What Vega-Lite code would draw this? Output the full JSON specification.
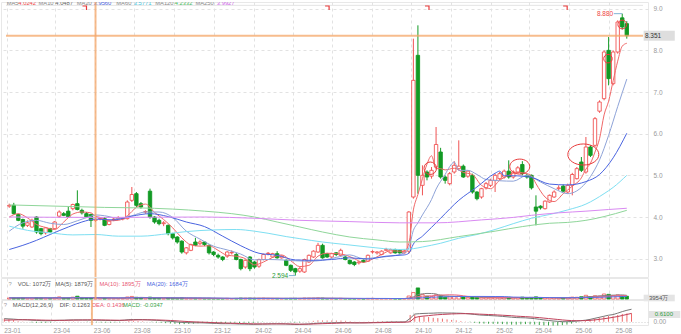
{
"$schema":"https://vega.github.io/schema/vega-lite/v6.json",
"padding":0,
"autosize":{"type":"pad"},
"background":"#ffffff",
"bounds":"flush",
"spacing":1,
"config":{
 "view":{"stroke":"#e8e8e8","strokeWidth":1},
 "font":"Liberation Sans",
 "axis":{"labelFont":"Liberation Sans","labelFontSize":6.5,"labelColor":"#9a9a9a"},
 "text":{"font":"Liberation Sans","fontSize":6}
},
"resolve":{"scale":{"x":"independent","y":"independent","fill":"independent","stroke":"independent"}},
"datasets":{
"k":[
{"d":"2023-01-20","o":4.26,"h":4.32,"l":4.22,"c":4.28,"v":1400,"dif":0.24,"dea":0.12,"m":0.24},
{"d":"2023-01-27","o":4.28,"h":4.34,"l":4.06,"c":4.08,"v":1800,"dif":0.22,"dea":0.13,"m":0.18},
{"d":"2023-02-03","o":4.06,"h":4.08,"l":3.90,"c":3.92,"v":1500,"dif":0.20,"dea":0.14,"m":0.12},
{"d":"2023-02-10","o":3.94,"h":3.96,"l":3.72,"c":3.78,"v":1700,"dif":0.17,"dea":0.145,"m":0.05},
{"d":"2023-02-17","o":3.80,"h":3.92,"l":3.76,"c":3.86,"v":1200,"dif":0.16,"dea":0.15,"m":0.02},
{"d":"2023-02-24","o":3.76,"h":3.96,"l":3.74,"c":3.92,"v":1300,"dif":0.15,"dea":0.15,"m":0.0},
{"d":"2023-03-03","o":4.00,"h":4.02,"l":3.60,"c":3.64,"v":2100,"dif":0.12,"dea":0.145,"m":-0.05},
{"d":"2023-03-10","o":3.72,"h":3.74,"l":3.56,"c":3.60,"v":1600,"dif":0.10,"dea":0.14,"m":-0.08},
{"d":"2023-03-17","o":3.62,"h":3.76,"l":3.58,"c":3.74,"v":1200,"dif":0.09,"dea":0.13,"m":-0.08},
{"d":"2023-03-24","o":3.72,"h":3.74,"l":3.62,"c":3.64,"v":900,"dif":0.08,"dea":0.12,"m":-0.08},
{"d":"2023-03-31","o":3.72,"h":3.90,"l":3.70,"c":3.88,"v":1400,"dif":0.085,"dea":0.115,"m":-0.06},
{"d":"2023-04-07","o":4.02,"h":4.16,"l":3.98,"c":4.12,"v":2900,"dif":0.10,"dea":0.11,"m":-0.02},
{"d":"2023-04-14","o":4.08,"h":4.12,"l":4.02,"c":4.04,"v":1500,"dif":0.11,"dea":0.11,"m":0.0},
{"d":"2023-04-21","o":4.14,"h":4.24,"l":3.98,"c":4.00,"v":1300,"dif":0.115,"dea":0.11,"m":0.01},
{"d":"2023-04-28","o":4.20,"h":4.32,"l":4.16,"c":4.30,"v":2500,"dif":0.13,"dea":0.12,"m":0.02},
{"d":"2023-05-05","o":4.32,"h":4.64,"l":4.16,"c":4.18,"v":3900,"dif":0.14,"dea":0.125,"m":0.03},
{"d":"2023-05-12","o":4.16,"h":4.20,"l":4.06,"c":4.10,"v":1600,"dif":0.14,"dea":0.13,"m":0.02},
{"d":"2023-05-19","o":4.08,"h":4.12,"l":3.98,"c":4.00,"v":1300,"dif":0.135,"dea":0.135,"m":0.0},
{"d":"2023-05-26","o":4.06,"h":4.08,"l":3.76,"c":3.92,"v":1500,"dif":0.13,"dea":0.14,"m":-0.02},
{"d":"2023-06-02","o":3.92,"h":3.98,"l":3.88,"c":3.94,"v":1072,"dif":0.1263,"dea":0.1436,"m":-0.0347},
{"d":"2023-06-09","o":3.96,"h":4.00,"l":3.92,"c":3.97,"v":1100,"dif":0.12,"dea":0.142,"m":-0.044},
{"d":"2023-06-16","o":3.96,"h":4.00,"l":3.78,"c":3.80,"v":1300,"dif":0.11,"dea":0.138,"m":-0.056},
{"d":"2023-06-23","o":3.82,"h":3.92,"l":3.80,"c":3.90,"v":1000,"dif":0.10,"dea":0.133,"m":-0.066},
{"d":"2023-06-30","o":3.94,"h":3.98,"l":3.90,"c":3.95,"v":900,"dif":0.095,"dea":0.127,"m":-0.064},
{"d":"2023-07-07","o":3.96,"h":4.02,"l":3.94,"c":3.98,"v":1000,"dif":0.095,"dea":0.12,"m":-0.05},
{"d":"2023-07-14","o":3.95,"h":4.00,"l":3.92,"c":3.97,"v":900,"dif":0.095,"dea":0.115,"m":-0.04},
{"d":"2023-07-21","o":3.96,"h":4.40,"l":3.94,"c":4.36,"v":2800,"dif":0.12,"dea":0.116,"m":0.008},
{"d":"2023-07-28","o":4.40,"h":4.72,"l":4.36,"c":4.54,"v":3600,"dif":0.16,"dea":0.125,"m":0.07},
{"d":"2023-08-04","o":4.56,"h":4.60,"l":4.24,"c":4.28,"v":2400,"dif":0.17,"dea":0.134,"m":0.072},
{"d":"2023-08-11","o":4.32,"h":4.36,"l":4.20,"c":4.24,"v":1500,"dif":0.17,"dea":0.141,"m":0.058},
{"d":"2023-08-18","o":4.12,"h":4.16,"l":4.08,"c":4.13,"v":1200,"dif":0.165,"dea":0.146,"m":0.038},
{"d":"2023-08-25","o":4.62,"h":4.68,"l":3.96,"c":4.00,"v":2600,"dif":0.15,"dea":0.147,"m":0.006},
{"d":"2023-09-01","o":4.00,"h":4.02,"l":3.84,"c":3.88,"v":1300,"dif":0.13,"dea":0.144,"m":-0.028},
{"d":"2023-09-08","o":3.92,"h":3.96,"l":3.80,"c":3.84,"v":1000,"dif":0.11,"dea":0.137,"m":-0.054},
{"d":"2023-09-15","o":3.84,"h":3.90,"l":3.78,"c":3.86,"v":900,"dif":0.09,"dea":0.128,"m":-0.076},
{"d":"2023-09-22","o":3.80,"h":3.82,"l":3.56,"c":3.60,"v":1400,"dif":0.06,"dea":0.114,"m":-0.108},
{"d":"2023-09-29","o":3.60,"h":3.62,"l":3.46,"c":3.50,"v":1200,"dif":0.03,"dea":0.097,"m":-0.134},
{"d":"2023-10-06","o":3.52,"h":3.54,"l":3.36,"c":3.40,"v":1000,"dif":0.0,"dea":0.078,"m":-0.156},
{"d":"2023-10-13","o":3.42,"h":3.44,"l":3.12,"c":3.16,"v":1600,"dif":-0.04,"dea":0.054,"m":-0.188},
{"d":"2023-10-20","o":3.14,"h":3.28,"l":3.10,"c":3.26,"v":1100,"dif":-0.06,"dea":0.031,"m":-0.182},
{"d":"2023-10-27","o":3.20,"h":3.36,"l":3.18,"c":3.34,"v":1000,"dif":-0.07,"dea":0.011,"m":-0.162},
{"d":"2023-11-03","o":3.40,"h":3.50,"l":3.30,"c":3.32,"v":900,"dif":-0.08,"dea":-0.007,"m":-0.146},
{"d":"2023-11-10","o":3.36,"h":3.44,"l":3.32,"c":3.40,"v":1000,"dif":-0.08,"dea":-0.022,"m":-0.116},
{"d":"2023-11-17","o":3.40,"h":3.42,"l":3.30,"c":3.34,"v":800,"dif":-0.085,"dea":-0.034,"m":-0.102},
{"d":"2023-11-24","o":3.32,"h":3.34,"l":3.10,"c":3.14,"v":900,"dif":-0.10,"dea":-0.047,"m":-0.106},
{"d":"2023-12-01","o":3.16,"h":3.18,"l":3.06,"c":3.10,"v":700,"dif":-0.12,"dea":-0.062,"m":-0.116},
{"d":"2023-12-08","o":3.08,"h":3.12,"l":3.00,"c":3.04,"v":600,"dif":-0.13,"dea":-0.076,"m":-0.108},
{"d":"2023-12-15","o":3.04,"h":3.06,"l":2.94,"c":2.98,"v":700,"dif":-0.15,"dea":-0.091,"m":-0.118},
{"d":"2023-12-22","o":3.06,"h":3.18,"l":3.02,"c":3.16,"v":900,"dif":-0.15,"dea":-0.103,"m":-0.094},
{"d":"2023-12-29","o":3.14,"h":3.20,"l":3.10,"c":3.15,"v":700,"dif":-0.15,"dea":-0.112,"m":-0.076},
{"d":"2024-01-05","o":3.10,"h":3.14,"l":2.96,"c":2.98,"v":800,"dif":-0.16,"dea":-0.122,"m":-0.076},
{"d":"2024-01-12","o":2.98,"h":3.00,"l":2.72,"c":2.76,"v":1300,"dif":-0.18,"dea":-0.134,"m":-0.092},
{"d":"2024-01-19","o":2.80,"h":2.98,"l":2.76,"c":2.96,"v":1100,"dif":-0.18,"dea":-0.143,"m":-0.074},
{"d":"2024-01-26","o":3.04,"h":3.06,"l":2.70,"c":2.76,"v":1200,"dif":-0.19,"dea":-0.152,"m":-0.076},
{"d":"2024-02-02","o":2.92,"h":2.94,"l":2.76,"c":2.80,"v":900,"dif":-0.20,"dea":-0.162,"m":-0.076},
{"d":"2024-02-09","o":2.82,"h":3.00,"l":2.78,"c":2.98,"v":1000,"dif":-0.19,"dea":-0.167,"m":-0.046},
{"d":"2024-02-16","o":2.98,"h":3.12,"l":2.96,"c":3.10,"v":1200,"dif":-0.18,"dea":-0.170,"m":-0.02},
{"d":"2024-02-23","o":3.12,"h":3.16,"l":3.08,"c":3.13,"v":900,"dif":-0.17,"dea":-0.17,"m":0.0},
{"d":"2024-03-01","o":3.04,"h":3.14,"l":3.02,"c":3.12,"v":800,"dif":-0.16,"dea":-0.168,"m":0.016},
{"d":"2024-03-08","o":3.12,"h":3.18,"l":3.00,"c":3.02,"v":800,"dif":-0.16,"dea":-0.166,"m":0.012},
{"d":"2024-03-15","o":3.02,"h":3.08,"l":3.00,"c":3.06,"v":700,"dif":-0.16,"dea":-0.165,"m":0.01},
{"d":"2024-03-22","o":2.96,"h":2.98,"l":2.82,"c":2.84,"v":800,"dif":-0.17,"dea":-0.166,"m":-0.008},
{"d":"2024-03-29","o":2.84,"h":2.86,"l":2.68,"c":2.72,"v":900,"dif":-0.19,"dea":-0.171,"m":-0.038},
{"d":"2024-04-05","o":2.76,"h":2.78,"l":2.594,"c":2.68,"v":900,"dif":-0.21,"dea":-0.179,"m":-0.062},
{"d":"2024-04-12","o":2.70,"h":2.80,"l":2.66,"c":2.76,"v":800,"dif":-0.21,"dea":-0.185,"m":-0.05},
{"d":"2024-04-19","o":2.68,"h":3.00,"l":2.66,"c":2.98,"v":1300,"dif":-0.19,"dea":-0.186,"m":-0.008},
{"d":"2024-04-26","o":2.92,"h":3.10,"l":2.90,"c":3.08,"v":1200,"dif":-0.17,"dea":-0.183,"m":0.026},
{"d":"2024-05-03","o":3.04,"h":3.20,"l":3.02,"c":3.18,"v":1100,"dif":-0.14,"dea":-0.174,"m":0.068},
{"d":"2024-05-10","o":3.16,"h":3.38,"l":3.14,"c":3.32,"v":1400,"dif":-0.11,"dea":-0.161,"m":0.102},
{"d":"2024-05-17","o":3.32,"h":3.36,"l":3.00,"c":3.02,"v":1200,"dif":-0.10,"dea":-0.149,"m":0.098},
{"d":"2024-05-24","o":3.12,"h":3.14,"l":3.02,"c":3.04,"v":700,"dif":-0.09,"dea":-0.137,"m":0.094},
{"d":"2024-05-31","o":3.04,"h":3.14,"l":3.02,"c":3.12,"v":700,"dif":-0.08,"dea":-0.126,"m":0.092},
{"d":"2024-06-07","o":3.14,"h":3.16,"l":3.06,"c":3.10,"v":600,"dif":-0.07,"dea":-0.115,"m":0.09},
{"d":"2024-06-14","o":3.08,"h":3.24,"l":3.06,"c":3.20,"v":900,"dif":-0.06,"dea":-0.104,"m":0.088},
{"d":"2024-06-21","o":3.04,"h":3.06,"l":2.96,"c":2.98,"v":700,"dif":-0.06,"dea":-0.095,"m":0.07},
{"d":"2024-06-28","o":2.96,"h":2.98,"l":2.86,"c":2.88,"v":600,"dif":-0.07,"dea":-0.09,"m":0.04},
{"d":"2024-07-05","o":2.92,"h":2.94,"l":2.82,"c":2.86,"v":600,"dif":-0.08,"dea":-0.088,"m":0.016},
{"d":"2024-07-12","o":2.90,"h":2.94,"l":2.86,"c":2.92,"v":500,"dif":-0.08,"dea":-0.086,"m":0.012},
{"d":"2024-07-19","o":2.96,"h":2.98,"l":2.90,"c":2.92,"v":500,"dif":-0.08,"dea":-0.085,"m":0.01},
{"d":"2024-07-26","o":2.94,"h":3.10,"l":2.92,"c":3.08,"v":800,"dif":-0.07,"dea":-0.082,"m":0.024},
{"d":"2024-08-02","o":3.16,"h":3.20,"l":3.12,"c":3.17,"v":900,"dif":-0.06,"dea":-0.078,"m":0.036},
{"d":"2024-08-09","o":3.14,"h":3.18,"l":3.10,"c":3.16,"v":600,"dif":-0.05,"dea":-0.072,"m":0.044},
{"d":"2024-08-16","o":3.10,"h":3.20,"l":3.08,"c":3.18,"v":700,"dif":-0.04,"dea":-0.066,"m":0.052},
{"d":"2024-08-23","o":3.20,"h":3.26,"l":3.18,"c":3.22,"v":700,"dif":-0.03,"dea":-0.059,"m":0.058},
{"d":"2024-08-30","o":3.14,"h":3.24,"l":3.12,"c":3.22,"v":600,"dif":-0.02,"dea":-0.051,"m":0.062},
{"d":"2024-09-06","o":3.22,"h":3.24,"l":3.12,"c":3.14,"v":600,"dif":-0.02,"dea":-0.045,"m":0.05},
{"d":"2024-09-13","o":3.20,"h":3.22,"l":3.12,"c":3.14,"v":500,"dif":-0.02,"dea":-0.040,"m":0.04},
{"d":"2024-09-20","o":3.14,"h":3.22,"l":3.12,"c":3.18,"v":600,"dif":-0.01,"dea":-0.034,"m":0.048},
{"d":"2024-09-27","o":3.18,"h":4.14,"l":3.12,"c":4.12,"v":4200,"dif":0.26,"dea":0.0,"m":0.52},
{"d":"2024-10-04","o":4.48,"h":8.28,"l":4.44,"c":7.28,"v":9000,"dif":0.59,"dea":0.32,"m":0.54},
{"d":"2024-10-11","o":7.88,"h":8.60,"l":4.56,"c":5.00,"v":15500,"dif":0.62,"dea":0.40,"m":0.44},
{"d":"2024-10-18","o":4.76,"h":5.24,"l":4.52,"c":5.00,"v":6500,"dif":0.64,"dea":0.44,"m":0.40},
{"d":"2024-10-25","o":5.08,"h":5.12,"l":4.88,"c":4.96,"v":3800,"dif":0.65,"dea":0.47,"m":0.36},
{"d":"2024-11-01","o":4.98,"h":5.20,"l":4.92,"c":5.12,"v":3500,"dif":0.66,"dea":0.51,"m":0.30},
{"d":"2024-11-08","o":5.20,"h":6.16,"l":5.16,"c":5.74,"v":6000,"dif":0.68,"dea":0.54,"m":0.28},
{"d":"2024-11-15","o":5.56,"h":5.66,"l":4.92,"c":4.96,"v":5200,"dif":0.68,"dea":0.56,"m":0.24},
{"d":"2024-11-22","o":4.96,"h":5.00,"l":4.80,"c":4.88,"v":2600,"dif":0.67,"dea":0.58,"m":0.18},
{"d":"2024-11-29","o":4.80,"h":5.08,"l":4.76,"c":5.04,"v":3000,"dif":0.67,"dea":0.60,"m":0.14},
{"d":"2024-12-06","o":5.08,"h":5.34,"l":5.04,"c":5.24,"v":3400,"dif":0.66,"dea":0.61,"m":0.10},
{"d":"2024-12-13","o":5.16,"h":5.84,"l":5.12,"c":5.22,"v":4200,"dif":0.65,"dea":0.62,"m":0.06},
{"d":"2024-12-20","o":5.22,"h":5.26,"l":4.94,"c":4.96,"v":2800,"dif":0.63,"dea":0.62,"m":0.02},
{"d":"2024-12-27","o":4.98,"h":5.12,"l":4.94,"c":5.10,"v":2200,"dif":0.60,"dea":0.615,"m":-0.03},
{"d":"2025-01-03","o":5.00,"h":5.04,"l":4.56,"c":4.60,"v":3000,"dif":0.56,"dea":0.60,"m":-0.08},
{"d":"2025-01-10","o":4.60,"h":4.62,"l":4.40,"c":4.44,"v":2200,"dif":0.52,"dea":0.585,"m":-0.13},
{"d":"2025-01-17","o":4.48,"h":4.70,"l":4.44,"c":4.68,"v":2000,"dif":0.50,"dea":0.57,"m":-0.14},
{"d":"2025-01-24","o":4.70,"h":4.84,"l":4.66,"c":4.80,"v":1800,"dif":0.48,"dea":0.555,"m":-0.15},
{"d":"2025-01-31","o":4.76,"h":4.92,"l":4.72,"c":4.88,"v":1700,"dif":0.46,"dea":0.54,"m":-0.16},
{"d":"2025-02-07","o":4.88,"h":5.04,"l":4.60,"c":5.00,"v":1900,"dif":0.44,"dea":0.52,"m":-0.16},
{"d":"2025-02-14","o":4.92,"h":5.08,"l":4.88,"c":5.04,"v":1600,"dif":0.41,"dea":0.50,"m":-0.18},
{"d":"2025-02-21","o":4.96,"h":5.14,"l":4.92,"c":5.10,"v":1700,"dif":0.38,"dea":0.48,"m":-0.20},
{"d":"2025-02-28","o":5.10,"h":5.36,"l":4.92,"c":4.96,"v":2400,"dif":0.35,"dea":0.46,"m":-0.22},
{"d":"2025-03-07","o":4.96,"h":5.12,"l":4.92,"c":5.08,"v":1500,"dif":0.32,"dea":0.43,"m":-0.22},
{"d":"2025-03-14","o":5.08,"h":5.22,"l":5.04,"c":5.18,"v":1800,"dif":0.31,"dea":0.41,"m":-0.20},
{"d":"2025-03-21","o":5.26,"h":5.34,"l":5.00,"c":5.04,"v":2600,"dif":0.30,"dea":0.39,"m":-0.18},
{"d":"2025-03-28","o":5.00,"h":5.04,"l":4.92,"c":4.96,"v":1500,"dif":0.27,"dea":0.37,"m":-0.20},
{"d":"2025-04-04","o":5.00,"h":5.02,"l":4.66,"c":4.70,"v":2200,"dif":0.24,"dea":0.345,"m":-0.21},
{"d":"2025-04-11","o":4.24,"h":4.52,"l":3.80,"c":4.14,"v":3000,"dif":0.19,"dea":0.315,"m":-0.25},
{"d":"2025-04-18","o":4.26,"h":4.28,"l":4.18,"c":4.22,"v":1600,"dif":0.14,"dea":0.28,"m":-0.28},
{"d":"2025-04-25","o":4.20,"h":4.40,"l":4.18,"c":4.38,"v":1500,"dif":0.10,"dea":0.245,"m":-0.29},
{"d":"2025-05-02","o":4.36,"h":4.54,"l":4.34,"c":4.52,"v":1600,"dif":0.06,"dea":0.21,"m":-0.30},
{"d":"2025-05-09","o":4.48,"h":4.64,"l":4.46,"c":4.60,"v":1500,"dif":0.03,"dea":0.175,"m":-0.29},
{"d":"2025-05-16","o":4.68,"h":4.76,"l":4.64,"c":4.70,"v":1400,"dif":0.01,"dea":0.14,"m":-0.26},
{"d":"2025-05-23","o":4.74,"h":4.78,"l":4.60,"c":4.62,"v":1300,"dif":0.0,"dea":0.11,"m":-0.22},
{"d":"2025-05-30","o":4.60,"h":4.80,"l":4.56,"c":4.76,"v":1600,"dif":0.02,"dea":0.09,"m":-0.14},
{"d":"2025-06-06","o":4.76,"h":5.06,"l":4.52,"c":5.02,"v":2600,"dif":0.05,"dea":0.08,"m":-0.06},
{"d":"2025-06-13","o":4.92,"h":5.20,"l":4.90,"c":5.16,"v":2400,"dif":0.08,"dea":0.08,"m":0.0},
{"d":"2025-06-20","o":5.32,"h":5.44,"l":5.08,"c":5.12,"v":3200,"dif":0.12,"dea":0.09,"m":0.06},
{"d":"2025-06-27","o":5.08,"h":5.92,"l":5.04,"c":5.68,"v":5200,"dif":0.18,"dea":0.11,"m":0.14},
{"d":"2025-07-04","o":5.68,"h":5.72,"l":5.44,"c":5.48,"v":3300,"dif":0.26,"dea":0.14,"m":0.24},
{"d":"2025-07-11","o":5.72,"h":6.40,"l":5.68,"c":6.36,"v":4600,"dif":0.34,"dea":0.18,"m":0.32},
{"d":"2025-07-18","o":6.54,"h":6.80,"l":6.50,"c":6.76,"v":4000,"dif":0.42,"dea":0.23,"m":0.38},
{"d":"2025-07-25","o":6.84,"h":8.00,"l":6.80,"c":7.96,"v":7000,"dif":0.50,"dea":0.28,"m":0.44},
{"d":"2025-08-01","o":8.00,"h":8.32,"l":7.16,"c":7.32,"v":6500,"dif":0.55,"dea":0.34,"m":0.42},
{"d":"2025-08-08","o":7.20,"h":8.00,"l":7.16,"c":7.96,"v":4800,"dif":0.66,"dea":0.40,"m":0.52},
{"d":"2025-08-15","o":7.96,"h":8.72,"l":7.92,"c":8.68,"v":5800,"dif":0.78,"dea":0.48,"m":0.60},
{"d":"2025-08-22","o":8.78,"h":8.88,"l":8.50,"c":8.56,"v":4500,"dif":0.88,"dea":0.56,"m":0.64},
{"d":"2025-08-29","o":8.64,"h":8.70,"l":8.28,"c":8.351,"v":3954,"dif":0.96,"dea":0.64,"m":0.64}
],
"ma":[
{"d":"2023-01-20","s":"MA5","v":4.00},{"d":"2023-02-03","s":"MA5","v":4.08},{"d":"2023-02-17","s":"MA5","v":3.98},{"d":"2023-03-03","s":"MA5","v":3.82},{"d":"2023-03-17","s":"MA5","v":3.75},{"d":"2023-03-31","s":"MA5","v":3.70},{"d":"2023-04-14","s":"MA5","v":3.88},{"d":"2023-04-28","s":"MA5","v":4.07},{"d":"2023-05-12","s":"MA5","v":4.12},{"d":"2023-05-26","s":"MA5","v":4.10},{"d":"2023-06-02","s":"MA5","v":4.02},{"d":"2023-06-09","s":"MA5","v":3.99},{"d":"2023-06-23","s":"MA5","v":3.91},{"d":"2023-07-07","s":"MA5","v":3.92},{"d":"2023-07-21","s":"MA5","v":4.03},{"d":"2023-08-04","s":"MA5","v":4.23},{"d":"2023-08-18","s":"MA5","v":4.31},{"d":"2023-09-01","s":"MA5","v":4.11},{"d":"2023-09-15","s":"MA5","v":3.94},{"d":"2023-09-29","s":"MA5","v":3.74},{"d":"2023-10-13","s":"MA5","v":3.50},{"d":"2023-10-27","s":"MA5","v":3.33},{"d":"2023-11-10","s":"MA5","v":3.30},{"d":"2023-11-24","s":"MA5","v":3.31},{"d":"2023-12-08","s":"MA5","v":3.20},{"d":"2023-12-22","s":"MA5","v":3.08},{"d":"2024-01-05","s":"MA5","v":3.06},{"d":"2024-01-19","s":"MA5","v":3.00},{"d":"2024-02-02","s":"MA5","v":2.85},{"d":"2024-02-16","s":"MA5","v":2.92},{"d":"2024-03-01","s":"MA5","v":3.03},{"d":"2024-03-15","s":"MA5","v":3.09},{"d":"2024-03-29","s":"MA5","v":2.95},{"d":"2024-04-12","s":"MA5","v":2.81},{"d":"2024-04-26","s":"MA5","v":2.84},{"d":"2024-05-10","s":"MA5","v":3.06},{"d":"2024-05-24","s":"MA5","v":3.13},{"d":"2024-06-07","s":"MA5","v":3.12},{"d":"2024-06-21","s":"MA5","v":3.09},{"d":"2024-07-05","s":"MA5","v":3.00},{"d":"2024-07-19","s":"MA5","v":2.91},{"d":"2024-08-02","s":"MA5","v":2.99},{"d":"2024-08-16","s":"MA5","v":3.10},{"d":"2024-08-30","s":"MA5","v":3.19},{"d":"2024-09-13","s":"MA5","v":3.18},{"d":"2024-09-20","s":"MA5","v":3.18},{"d":"2024-09-27","s":"MA5","v":3.36},{"d":"2024-10-04","s":"MA5","v":4.17},{"d":"2024-10-11","s":"MA5","v":4.54},{"d":"2024-10-18","s":"MA5","v":4.92},{"d":"2024-10-25","s":"MA5","v":5.27},{"d":"2024-11-01","s":"MA5","v":5.47},{"d":"2024-11-08","s":"MA5","v":5.16},{"d":"2024-11-15","s":"MA5","v":5.16},{"d":"2024-11-22","s":"MA5","v":5.13},{"d":"2024-12-06","s":"MA5","v":5.17},{"d":"2024-12-20","s":"MA5","v":5.07},{"d":"2025-01-03","s":"MA5","v":5.02},{"d":"2025-01-17","s":"MA5","v":4.76},{"d":"2025-01-31","s":"MA5","v":4.68},{"d":"2025-02-14","s":"MA5","v":4.88},{"d":"2025-02-28","s":"MA5","v":5.00},{"d":"2025-03-14","s":"MA5","v":5.07},{"d":"2025-03-28","s":"MA5","v":5.04},{"d":"2025-04-04","s":"MA5","v":4.99},{"d":"2025-04-11","s":"MA5","v":4.80},{"d":"2025-04-25","s":"MA5","v":4.48},{"d":"2025-05-09","s":"MA5","v":4.37},{"d":"2025-05-23","s":"MA5","v":4.56},{"d":"2025-06-06","s":"MA5","v":4.74},{"d":"2025-06-20","s":"MA5","v":4.94},{"d":"2025-06-27","s":"MA5","v":5.15},{"d":"2025-07-04","s":"MA5","v":5.29},{"d":"2025-07-11","s":"MA5","v":5.56},{"d":"2025-07-18","s":"MA5","v":5.88},{"d":"2025-07-25","s":"MA5","v":6.45},{"d":"2025-08-01","s":"MA5","v":6.78},{"d":"2025-08-08","s":"MA5","v":7.27},{"d":"2025-08-15","s":"MA5","v":7.74},{"d":"2025-08-22","s":"MA5","v":8.10},{"d":"2025-08-29","s":"MA5","v":8.17},
{"d":"2023-01-20","s":"MA10","v":3.66},{"d":"2023-02-10","s":"MA10","v":3.86},{"d":"2023-03-03","s":"MA10","v":3.92},{"d":"2023-03-24","s":"MA10","v":3.85},{"d":"2023-04-14","s":"MA10","v":3.82},{"d":"2023-05-05","s":"MA10","v":3.91},{"d":"2023-05-26","s":"MA10","v":4.02},{"d":"2023-06-02","s":"MA10","v":4.05},{"d":"2023-06-16","s":"MA10","v":4.03},{"d":"2023-07-07","s":"MA10","v":3.97},{"d":"2023-07-28","s":"MA10","v":4.03},{"d":"2023-08-18","s":"MA10","v":4.12},{"d":"2023-09-08","s":"MA10","v":4.12},{"d":"2023-09-29","s":"MA10","v":3.99},{"d":"2023-10-20","s":"MA10","v":3.66},{"d":"2023-11-10","s":"MA10","v":3.47},{"d":"2023-12-01","s":"MA10","v":3.30},{"d":"2023-12-22","s":"MA10","v":3.21},{"d":"2024-01-12","s":"MA10","v":3.11},{"d":"2024-02-02","s":"MA10","v":2.97},{"d":"2024-02-23","s":"MA10","v":2.98},{"d":"2024-03-15","s":"MA10","v":2.97},{"d":"2024-04-05","s":"MA10","v":2.95},{"d":"2024-04-26","s":"MA10","v":2.94},{"d":"2024-05-17","s":"MA10","v":2.96},{"d":"2024-06-07","s":"MA10","v":3.03},{"d":"2024-06-28","s":"MA10","v":3.09},{"d":"2024-07-19","s":"MA10","v":3.00},{"d":"2024-08-09","s":"MA10","v":3.03},{"d":"2024-08-30","s":"MA10","v":3.06},{"d":"2024-09-20","s":"MA10","v":3.14},{"d":"2024-09-27","s":"MA10","v":3.26},{"d":"2024-10-04","s":"MA10","v":3.68},{"d":"2024-10-11","s":"MA10","v":3.86},{"d":"2024-10-18","s":"MA10","v":4.05},{"d":"2024-11-01","s":"MA10","v":4.42},{"d":"2024-11-08","s":"MA10","v":4.67},{"d":"2024-11-22","s":"MA10","v":5.02},{"d":"2024-11-29","s":"MA10","v":5.21},{"d":"2024-12-06","s":"MA10","v":5.32},{"d":"2024-12-13","s":"MA10","v":5.12},{"d":"2024-12-27","s":"MA10","v":5.12},{"d":"2025-01-10","s":"MA10","v":5.02},{"d":"2025-01-24","s":"MA10","v":4.90},{"d":"2025-02-14","s":"MA10","v":4.87},{"d":"2025-03-07","s":"MA10","v":4.86},{"d":"2025-03-28","s":"MA10","v":5.00},{"d":"2025-04-18","s":"MA10","v":4.84},{"d":"2025-05-09","s":"MA10","v":4.68},{"d":"2025-05-30","s":"MA10","v":4.56},{"d":"2025-06-20","s":"MA10","v":4.71},{"d":"2025-07-04","s":"MA10","v":4.97},{"d":"2025-07-18","s":"MA10","v":5.37},{"d":"2025-08-01","s":"MA10","v":5.96},{"d":"2025-08-15","s":"MA10","v":6.65},{"d":"2025-08-29","s":"MA10","v":7.31},
{"d":"2023-01-20","s":"MA20","v":3.22},{"d":"2023-02-10","s":"MA20","v":3.32},{"d":"2023-03-03","s":"MA20","v":3.44},{"d":"2023-03-24","s":"MA20","v":3.58},{"d":"2023-04-21","s":"MA20","v":3.76},{"d":"2023-05-12","s":"MA20","v":3.88},{"d":"2023-06-02","s":"MA20","v":3.95},{"d":"2023-06-30","s":"MA20","v":3.93},{"d":"2023-07-28","s":"MA20","v":4.02},{"d":"2023-08-25","s":"MA20","v":4.08},{"d":"2023-09-22","s":"MA20","v":4.01},{"d":"2023-10-20","s":"MA20","v":3.88},{"d":"2023-11-17","s":"MA20","v":3.77},{"d":"2023-12-15","s":"MA20","v":3.54},{"d":"2024-01-12","s":"MA20","v":3.31},{"d":"2024-02-09","s":"MA20","v":3.13},{"d":"2024-03-08","s":"MA20","v":3.08},{"d":"2024-04-05","s":"MA20","v":2.97},{"d":"2024-05-03","s":"MA20","v":2.96},{"d":"2024-05-31","s":"MA20","v":2.98},{"d":"2024-06-28","s":"MA20","v":3.02},{"d":"2024-07-26","s":"MA20","v":2.99},{"d":"2024-08-23","s":"MA20","v":3.06},{"d":"2024-09-20","s":"MA20","v":3.09},{"d":"2024-09-27","s":"MA20","v":3.13},{"d":"2024-10-04","s":"MA20","v":3.35},{"d":"2024-10-18","s":"MA20","v":3.54},{"d":"2024-11-15","s":"MA20","v":3.97},{"d":"2024-12-13","s":"MA20","v":4.40},{"d":"2025-01-10","s":"MA20","v":4.72},{"d":"2025-02-07","s":"MA20","v":5.05},{"d":"2025-02-14","s":"MA20","v":5.10},{"d":"2025-02-21","s":"MA20","v":4.99},{"d":"2025-03-07","s":"MA20","v":4.99},{"d":"2025-04-04","s":"MA20","v":4.95},{"d":"2025-05-02","s":"MA20","v":4.79},{"d":"2025-05-30","s":"MA20","v":4.77},{"d":"2025-06-27","s":"MA20","v":4.85},{"d":"2025-07-18","s":"MA20","v":5.02},{"d":"2025-08-08","s":"MA20","v":5.42},{"d":"2025-08-29","s":"MA20","v":6.01},
{"d":"2023-01-20","s":"MA60","v":3.78},{"d":"2023-02-17","s":"MA60","v":3.68},{"d":"2023-03-24","s":"MA60","v":3.62},{"d":"2023-04-28","s":"MA60","v":3.57},{"d":"2023-06-02","s":"MA60","v":3.58},{"d":"2023-07-07","s":"MA60","v":3.54},{"d":"2023-08-11","s":"MA60","v":3.54},{"d":"2023-09-22","s":"MA60","v":3.60},{"d":"2023-10-20","s":"MA60","v":3.65},{"d":"2023-12-01","s":"MA60","v":3.69},{"d":"2024-01-05","s":"MA60","v":3.70},{"d":"2024-02-02","s":"MA60","v":3.66},{"d":"2024-02-23","s":"MA60","v":3.61},{"d":"2024-03-22","s":"MA60","v":3.53},{"d":"2024-04-12","s":"MA60","v":3.48},{"d":"2024-05-17","s":"MA60","v":3.40},{"d":"2024-06-21","s":"MA60","v":3.34},{"d":"2024-07-26","s":"MA60","v":3.28},{"d":"2024-09-13","s":"MA60","v":3.22},{"d":"2024-10-04","s":"MA60","v":3.24},{"d":"2024-10-18","s":"MA60","v":3.28},{"d":"2024-11-15","s":"MA60","v":3.37},{"d":"2024-12-13","s":"MA60","v":3.49},{"d":"2025-01-10","s":"MA60","v":3.58},{"d":"2025-02-07","s":"MA60","v":3.70},{"d":"2025-03-07","s":"MA60","v":3.84},{"d":"2025-04-04","s":"MA60","v":3.97},{"d":"2025-05-02","s":"MA60","v":4.06},{"d":"2025-05-30","s":"MA60","v":4.17},{"d":"2025-06-27","s":"MA60","v":4.31},{"d":"2025-07-25","s":"MA60","v":4.56},{"d":"2025-08-08","s":"MA60","v":4.71},{"d":"2025-08-29","s":"MA60","v":5.00},
{"d":"2023-01-20","s":"MA120","v":4.29},{"d":"2023-04-28","s":"MA120","v":4.25},{"d":"2023-06-16","s":"MA120","v":4.23},{"d":"2023-08-04","s":"MA120","v":4.22},{"d":"2023-09-29","s":"MA120","v":4.19},{"d":"2023-11-17","s":"MA120","v":4.14},{"d":"2023-12-29","s":"MA120","v":4.08},{"d":"2024-02-02","s":"MA120","v":4.00},{"d":"2024-03-08","s":"MA120","v":3.88},{"d":"2024-04-12","s":"MA120","v":3.76},{"d":"2024-05-17","s":"MA120","v":3.64},{"d":"2024-06-28","s":"MA120","v":3.52},{"d":"2024-08-09","s":"MA120","v":3.45},{"d":"2024-09-13","s":"MA120","v":3.40},{"d":"2024-10-18","s":"MA120","v":3.41},{"d":"2024-12-13","s":"MA120","v":3.53},{"d":"2025-02-07","s":"MA120","v":3.66},{"d":"2025-03-21","s":"MA120","v":3.77},{"d":"2025-05-02","s":"MA120","v":3.85},{"d":"2025-05-30","s":"MA120","v":3.87},{"d":"2025-06-27","s":"MA120","v":3.92},{"d":"2025-07-25","s":"MA120","v":4.01},{"d":"2025-08-29","s":"MA120","v":4.16},
{"d":"2023-01-20","s":"MA250","v":4.00},{"d":"2023-06-16","s":"MA250","v":3.99},{"d":"2023-11-17","s":"MA250","v":4.00},{"d":"2024-02-02","s":"MA250","v":3.97},{"d":"2024-04-12","s":"MA250","v":3.92},{"d":"2024-06-28","s":"MA250","v":3.89},{"d":"2024-09-13","s":"MA250","v":3.86},{"d":"2024-11-08","s":"MA250","v":3.86},{"d":"2025-01-17","s":"MA250","v":3.93},{"d":"2025-03-07","s":"MA250","v":3.99},{"d":"2025-04-04","s":"MA250","v":4.04},{"d":"2025-05-16","s":"MA250","v":4.10},{"d":"2025-06-27","s":"MA250","v":4.14},{"d":"2025-08-01","s":"MA250","v":4.18},{"d":"2025-08-29","s":"MA250","v":4.21}
],
"vma":[
{"d":"2023-01-20","s":"V5","v":1600},{"d":"2023-02-17","s":"V5","v":1520},{"d":"2023-03-24","s":"V5","v":1420},{"d":"2023-04-28","s":"V5","v":1920},{"d":"2023-05-12","s":"V5","v":2160},{"d":"2023-06-02","s":"V5","v":1874},{"d":"2023-07-07","s":"V5","v":1060},{"d":"2023-07-28","s":"V5","v":1840},{"d":"2023-08-11","s":"V5","v":2240},{"d":"2023-09-01","s":"V5","v":1800},{"d":"2023-09-22","s":"V5","v":1440},{"d":"2023-10-20","s":"V5","v":1260},{"d":"2023-11-24","s":"V5","v":920},{"d":"2023-12-29","s":"V5","v":720},{"d":"2024-01-26","s":"V5","v":1020},{"d":"2024-02-23","s":"V5","v":1040},{"d":"2024-03-22","s":"V5","v":800},{"d":"2024-04-19","s":"V5","v":940},{"d":"2024-05-10","s":"V5","v":1160},{"d":"2024-05-31","s":"V5","v":1020},{"d":"2024-06-28","s":"V5","v":700},{"d":"2024-07-26","s":"V5","v":600},{"d":"2024-08-23","s":"V5","v":740},{"d":"2024-09-20","s":"V5","v":600},{"d":"2024-09-27","s":"V5","v":1300},{"d":"2024-10-04","s":"V5","v":2980},{"d":"2024-10-11","s":"V5","v":5960},{"d":"2024-10-18","s":"V5","v":7160},{"d":"2024-10-25","s":"V5","v":7800},{"d":"2024-11-01","s":"V5","v":7660},{"d":"2024-11-08","s":"V5","v":7060},{"d":"2024-11-15","s":"V5","v":5000},{"d":"2024-11-29","s":"V5","v":4060},{"d":"2024-12-13","s":"V5","v":3680},{"d":"2025-01-03","s":"V5","v":3120},{"d":"2025-01-24","s":"V5","v":2240},{"d":"2025-02-21","s":"V5","v":1740},{"d":"2025-03-21","s":"V5","v":2000},{"d":"2025-04-11","s":"V5","v":2220},{"d":"2025-05-02","s":"V5","v":1980},{"d":"2025-05-23","s":"V5","v":1460},{"d":"2025-06-13","s":"V5","v":1860},{"d":"2025-06-27","s":"V5","v":3000},{"d":"2025-07-11","s":"V5","v":3740},{"d":"2025-07-25","s":"V5","v":4820},{"d":"2025-08-08","s":"V5","v":5380},{"d":"2025-08-22","s":"V5","v":5720},{"d":"2025-08-29","s":"V5","v":5110},
{"d":"2023-01-20","s":"V10","v":1600},{"d":"2023-03-24","s":"V10","v":1490},{"d":"2023-04-28","s":"V10","v":1670},{"d":"2023-06-02","s":"V10","v":1897},{"d":"2023-07-07","s":"V10","v":1420},{"d":"2023-08-11","s":"V10","v":1730},{"d":"2023-09-15","s":"V10","v":1790},{"d":"2023-10-20","s":"V10","v":1350},{"d":"2023-11-24","s":"V10","v":1100},{"d":"2023-12-29","s":"V10","v":800},{"d":"2024-02-02","s":"V10","v":950},{"d":"2024-03-08","s":"V10","v":990},{"d":"2024-04-12","s":"V10","v":850},{"d":"2024-05-17","s":"V10","v":1040},{"d":"2024-06-21","s":"V10","v":880},{"d":"2024-07-26","s":"V10","v":650},{"d":"2024-08-30","s":"V10","v":690},{"d":"2024-09-20","s":"V10","v":640},{"d":"2024-09-27","s":"V10","v":990},{"d":"2024-10-04","s":"V10","v":1830},{"d":"2024-10-11","s":"V10","v":3330},{"d":"2024-10-18","s":"V10","v":3920},{"d":"2024-11-01","s":"V10","v":4510},{"d":"2024-11-15","s":"V10","v":5480},{"d":"2024-11-29","s":"V10","v":5930},{"d":"2024-12-13","s":"V10","v":5370},{"d":"2024-12-27","s":"V10","v":3670},{"d":"2025-01-10","s":"V10","v":3240},{"d":"2025-01-24","s":"V10","v":2790},{"d":"2025-02-07","s":"V10","v":2410},{"d":"2025-02-21","s":"V10","v":2010},{"d":"2025-03-14","s":"V10","v":1790},{"d":"2025-04-04","s":"V10","v":1900},{"d":"2025-05-02","s":"V10","v":2010},{"d":"2025-05-30","s":"V10","v":1570},{"d":"2025-06-20","s":"V10","v":1940},{"d":"2025-07-11","s":"V10","v":2740},{"d":"2025-08-01","s":"V10","v":3780},{"d":"2025-08-15","s":"V10","v":4660},{"d":"2025-08-29","s":"V10","v":4920},
{"d":"2023-01-20","s":"V20","v":1600},{"d":"2023-06-02","s":"V20","v":1684},{"d":"2023-07-07","s":"V20","v":1560},{"d":"2023-08-11","s":"V20","v":1730},{"d":"2023-09-15","s":"V20","v":1620},{"d":"2023-10-20","s":"V20","v":1560},{"d":"2023-11-24","s":"V20","v":1430},{"d":"2023-12-29","s":"V20","v":1080},{"d":"2024-02-02","s":"V20","v":880},{"d":"2024-03-08","s":"V20","v":880},{"d":"2024-04-12","s":"V20","v":920},{"d":"2024-05-17","s":"V20","v":1010},{"d":"2024-06-21","s":"V20","v":960},{"d":"2024-07-26","s":"V20","v":850},{"d":"2024-08-30","s":"V20","v":680},{"d":"2024-09-20","s":"V20","v":690},{"d":"2024-10-04","s":"V20","v":1150},{"d":"2024-10-18","s":"V20","v":1790},{"d":"2024-11-01","s":"V20","v":2380},{"d":"2024-11-15","s":"V20","v":2990},{"d":"2024-11-29","s":"V20","v":3290},{"d":"2024-12-13","s":"V20","v":3460},{"d":"2025-01-10","s":"V20","v":3600},{"d":"2025-02-07","s":"V20","v":3500},{"d":"2025-02-21","s":"V20","v":3400},{"d":"2025-03-07","s":"V20","v":2650},{"d":"2025-04-04","s":"V20","v":2260},{"d":"2025-05-02","s":"V20","v":2010},{"d":"2025-05-30","s":"V20","v":1850},{"d":"2025-06-27","s":"V20","v":2010},{"d":"2025-07-25","s":"V20","v":2600},{"d":"2025-08-22","s":"V20","v":3400},{"d":"2025-08-29","s":"V20","v":3690}
],
"lgm":[
{"d":"2023-01-16","t":"MA5","g":"lab"},{"d":"2023-02-03","t":"4.0242","g":"MA5"},{"d":"2023-03-06","t":"MA10","g":"lab"},{"d":"2023-04-01","t":"4.0487","g":"MA10"},{"d":"2023-05-04","t":"MA20","g":"lab"},{"d":"2023-05-30","t":"3.9560","g":"MA20"},{"d":"2023-07-04","t":"MA60","g":"lab"},{"d":"2023-07-31","t":"3.5771","g":"MA60"},{"d":"2023-09-02","t":"MA120","g":"lab"},{"d":"2023-10-02","t":"4.2332","g":"MA120"},{"d":"2023-11-03","t":"MA250","g":"lab"},{"d":"2023-12-06","t":"3.9927","g":"MA250"}
],
"lgv":[
{"d":"2023-01-19","t":"?","g":"q"},{"d":"2023-02-02","t":"VOL: 1072万","g":"n"},{"d":"2023-04-01","t":"MA(5): 1879万","g":"n"},{"d":"2023-06-08","t":"MA(10): 1895万","g":"p"},{"d":"2023-08-20","t":"MA(20): 1684万","g":"b"}
],
"lgd":[
{"d":"2023-01-19","t":"?","g":"q"},{"d":"2023-02-02","t":"MACD(12,26,9)","g":"n"},{"d":"2023-04-14","t":"DIF: 0.1263","g":"n"},{"d":"2023-06-02","t":"DEA: 0.1436","g":"p"},{"d":"2023-07-19","t":"MACD: -0.0347","g":"g"}
]
},
"vconcat":[
{
"width":647,"height":275,
"encoding":{"x":{"field":"d","type":"temporal","title":null,
  "scale":{"type":"utc","domain":[{"year":2023,"month":1,"date":15,"utc":true},{"year":2025,"month":9,"date":23,"utc":true}]},
  "axis":{"values":[{"year":2023,"month":1,"date":16,"utc":true},{"year":2023,"month":4,"date":1,"utc":true},{"year":2023,"month":6,"date":1,"utc":true},{"year":2023,"month":8,"date":1,"utc":true},{"year":2023,"month":10,"date":1,"utc":true},{"year":2023,"month":12,"date":1,"utc":true},{"year":2024,"month":2,"date":1,"utc":true},{"year":2024,"month":4,"date":1,"utc":true},{"year":2024,"month":6,"date":1,"utc":true},{"year":2024,"month":8,"date":1,"utc":true},{"year":2024,"month":10,"date":1,"utc":true},{"year":2024,"month":12,"date":1,"utc":true},{"year":2025,"month":2,"date":1,"utc":true},{"year":2025,"month":4,"date":1,"utc":true},{"year":2025,"month":6,"date":1,"utc":true},{"year":2025,"month":8,"date":1,"utc":true}],
   "labels":false,"ticks":false,"domain":false,"grid":true,"gridDash":[3,3],"gridColor":"#e2e2e2","title":null}}},
"layer":[
 {"data":{"name":"k"},"mark":{"type":"rule","strokeWidth":1},
  "encoding":{"y":{"field":"l","type":"quantitative","title":null,"scale":{"domain":[2.56,9.16],"nice":false,"zero":false},
     "axis":{"orient":"right","values":[3,4,5,6,7,8,9],"format":".1f","grid":true,"gridDash":[3,3],"gridColor":"#e2e2e2","ticks":false,"domain":false,"labelPadding":5,"title":null}},
   "y2":{"field":"h"},
   "color":{"condition":{"test":"datum.c >= datum.o","value":"#f05454"},"value":"#129a24"}}},
 {"data":{"name":"k"},"mark":{"type":"bar","width":3.4,"strokeWidth":0.9},
  "encoding":{"y":{"field":"o","type":"quantitative","title":null,"scale":{"domain":[2.56,9.16],"nice":false,"zero":false}},
   "y2":{"field":"c"},
   "fill":{"condition":{"test":"datum.c >= datum.o","value":"#ffffff"},"value":"#129a24"},
   "stroke":{"condition":{"test":"datum.c >= datum.o","value":"#f05454"},"value":"#129a24"}}},
 {"data":{"name":"ma"},"mark":{"type":"line","strokeWidth":1,"interpolate":"monotone"},
  "encoding":{"y":{"field":"v","type":"quantitative","title":null,"scale":{"domain":[2.56,9.16],"nice":false,"zero":false}},
   "stroke":{"field":"s","type":"nominal","legend":null,"scale":{"domain":["MA250","MA120","MA60","MA20","MA10","MA5"],"range":["#d98af2","#8fd69a","#7edff2","#4a64e0","#8ea3d8","#f06868"]}}}},
 {"data":{"values":[{"d":"2023-01-15","d2":"2025-09-23"}],"format":{"parse":{"d":"date","d2":"date"}}},"mark":{"type":"rule","color":"#e4e4e4","strokeWidth":1},
  "encoding":{"x2":{"field":"d2"},"y":{"datum":9.08,"type":"quantitative","scale":{"domain":[2.56,9.16],"nice":false,"zero":false},"title":null}}},
 {"data":{"values":[{"d":"2024-10-30"}]},"mark":{"type":"point","shape":"circle","size":156,"filled":false,"color":"#e83a3a","strokeWidth":1,"opacity":1},
  "encoding":{"y":{"datum":5.17,"type":"quantitative","title":null}}},
 {"data":{"values":[{"d":"2025-03-17"}]},"mark":{"type":"point","shape":"M-1,0A1,0.75,0,1,1,1,0A1,0.75,0,1,1,-1,0Z","size":400,"filled":false,"color":"#e83a3a","strokeWidth":1,"opacity":1},
  "encoding":{"y":{"datum":5.21,"type":"quantitative","title":null}}},
 {"data":{"values":[{"d":"2025-06-23"}]},"mark":{"type":"point","shape":"M-1,0A1,0.68,0,1,1,1,0A1,0.68,0,1,1,-1,0Z","size":961,"filled":false,"color":"#e83a3a","strokeWidth":1,"opacity":1},
  "encoding":{"y":{"datum":5.50,"type":"quantitative","title":null}}},
 {"data":{"values":[{"d":"2025-07-31"}]},"mark":{"type":"point","shape":"circle","size":72,"filled":false,"color":"#e83a3a","strokeWidth":1,"opacity":1},
  "encoding":{"y":{"datum":7.80,"type":"quantitative","title":null}}},
 {"data":{"values":[{"d":"2025-08-22"}]},"mark":{"type":"point","shape":"circle","size":76,"filled":false,"color":"#e83a3a","strokeWidth":1,"opacity":1},
  "encoding":{"y":{"datum":8.62,"type":"quantitative","title":null}}},
 {"data":{"values":[{"d":"2025-08-09","d2":"2025-08-22"}],"format":{"parse":{"d":"date","d2":"date"}}},"mark":{"type":"rule","color":"#7fb3d5","strokeWidth":1},
  "encoding":{"x2":{"field":"d2"},"y":{"datum":8.88,"type":"quantitative","title":null}}},
 {"data":{"values":[{"d":"2025-08-08","t":"8.880"}]},"mark":{"type":"text","align":"right","baseline":"middle","fontSize":6.5,"color":"#ee3f3f"},
  "encoding":{"y":{"datum":8.88,"type":"quantitative","title":null},"text":{"field":"t"}}},
 {"data":{"values":[{"d":"2024-03-26","d2":"2024-04-05"}],"format":{"parse":{"d":"date","d2":"date"}}},"mark":{"type":"rule","color":"#7fb3d5","strokeWidth":1},
  "encoding":{"x2":{"field":"d2"},"y":{"datum":2.594,"type":"quantitative","title":null}}},
 {"data":{"values":[{"d":"2024-03-25","t":"2.594"}]},"mark":{"type":"text","align":"right","baseline":"middle","fontSize":6.5,"color":"#2a9a3a"},
  "encoding":{"y":{"datum":2.594,"type":"quantitative","title":null},"text":{"field":"t"}}},
 {"data":{"values":[{"d":"2023-05-16"},{"d":"2024-05-24"},{"d":"2024-10-25"},{"d":"2025-05-26"}]},"mark":{"type":"point","shape":"M-1,-1L1,-1L1,1","size":16,"filled":false,"color":"#e83a3a","strokeWidth":1.2,"opacity":1},
  "encoding":{"y":{"datum":9.016,"type":"quantitative","title":null}}},
 {"data":{"name":"lgm"},"mark":{"type":"text","align":"left","baseline":"alphabetic","fontSize":5.8,"clip":true},
  "encoding":{"y":{"datum":9.1,"type":"quantitative","title":null},"text":{"field":"t"},
   "fill":{"field":"g","type":"nominal","legend":null,"scale":{"domain":["lab","MA5","MA10","MA20","MA60","MA120","MA250"],"range":["#8a8a8a","#f04848","#666666","#4a64e0","#3cc3e0","#4cbc5c","#cf5fe8"]}}}},
 {"data":{"values":[{"d":"2025-09-24","d2":"2025-11-11"}],"format":{"parse":{"d":"date","d2":"date"}}},"mark":{"type":"rect","color":"#dedede"},
  "encoding":{"x2":{"field":"d2"},"y":{"datum":8.471,"type":"quantitative","title":null},"y2":{"datum":8.231}}},
 {"data":{"values":[{"d":"2025-09-26","t":"8.351"}]},"mark":{"type":"text","align":"left","baseline":"middle","fontSize":6.5,"color":"#333333"},
  "encoding":{"y":{"datum":8.351,"type":"quantitative","title":null},"text":{"field":"t"}}},
 {"data":{"values":[{"d":"2023-06-02"}]},"mark":{"type":"rule","color":"#f4a667","strokeWidth":2,"opacity":0.75},"encoding":{}},
 {"data":{"values":[{"d":"2023-01-15","d2":"2025-09-23"}],"format":{"parse":{"d":"date","d2":"date"}}},"mark":{"type":"rule","color":"#f4a667","strokeWidth":2,"opacity":0.75},
  "encoding":{"x2":{"field":"d2"},"y":{"datum":8.351,"type":"quantitative","title":null}}}
]
},
{
"width":647,"height":21,
"encoding":{"x":{"field":"d","type":"temporal","title":null,
  "scale":{"type":"utc","domain":[{"year":2023,"month":1,"date":15,"utc":true},{"year":2025,"month":9,"date":23,"utc":true}]},
  "axis":{"values":[{"year":2023,"month":1,"date":16,"utc":true},{"year":2023,"month":4,"date":1,"utc":true},{"year":2023,"month":6,"date":1,"utc":true},{"year":2023,"month":8,"date":1,"utc":true},{"year":2023,"month":10,"date":1,"utc":true},{"year":2023,"month":12,"date":1,"utc":true},{"year":2024,"month":2,"date":1,"utc":true},{"year":2024,"month":4,"date":1,"utc":true},{"year":2024,"month":6,"date":1,"utc":true},{"year":2024,"month":8,"date":1,"utc":true},{"year":2024,"month":10,"date":1,"utc":true},{"year":2024,"month":12,"date":1,"utc":true},{"year":2025,"month":2,"date":1,"utc":true},{"year":2025,"month":4,"date":1,"utc":true},{"year":2025,"month":6,"date":1,"utc":true},{"year":2025,"month":8,"date":1,"utc":true}],
   "labels":false,"ticks":false,"domain":false,"grid":true,"gridDash":[3,3],"gridColor":"#e2e2e2","title":null}}},
"layer":[
 {"data":{"name":"k"},"mark":{"type":"bar","width":3.4,"strokeWidth":0.8},
  "encoding":{"y":{"field":"v","type":"quantitative","title":null,"axis":null,"scale":{"domain":[0,29400],"nice":false,"zero":true}},
   "fill":{"condition":{"test":"datum.c >= datum.o","value":"#ffffff"},"value":"#129a24"},
   "stroke":{"condition":{"test":"datum.c >= datum.o","value":"#f05454"},"value":"#129a24"}}},
 {"data":{"name":"vma"},"mark":{"type":"line","strokeWidth":1,"interpolate":"monotone"},
  "encoding":{"y":{"field":"v","type":"quantitative","title":null,"axis":null},
   "stroke":{"field":"s","type":"nominal","legend":null,"scale":{"domain":["V20","V10","V5"],"range":["#5a72e6","#ea6a84","#808080"]}}}},
 {"data":{"name":"lgv"},"mark":{"type":"text","align":"left","baseline":"middle","fontSize":5.8},
  "encoding":{"y":{"datum":20580,"type":"quantitative","title":null,"axis":null},"text":{"field":"t"},
   "fill":{"field":"g","type":"nominal","legend":null,"scale":{"domain":["q","n","p","b","g"],"range":["#a0a0a0","#555555","#e85a74","#4a64e0","#37a347"]}}}},
 {"data":{"values":[{"d":"2025-09-24","d2":"2025-11-11"}],"format":{"parse":{"d":"date","d2":"date"}}},"mark":{"type":"rect","color":"#e4e4e4"},
  "encoding":{"x2":{"field":"d2"},"y":{"datum":6020,"type":"quantitative","title":null,"axis":null},"y2":{"datum":-3220}}},
 {"data":{"values":[{"d":"2025-10-17","t":"3954万"}]},"mark":{"type":"text","align":"center","baseline":"middle","fontSize":6,"color":"#555555"},
  "encoding":{"y":{"datum":1400,"type":"quantitative","title":null,"axis":null},"text":{"field":"t"}}},
 {"data":{"values":[{"d":"2023-06-02"}]},"mark":{"type":"rule","color":"#f4a667","strokeWidth":2,"opacity":0.75},"encoding":{}}
]
},
{
"width":647,"height":25,
"encoding":{"x":{"field":"d","type":"temporal","title":null,
  "scale":{"type":"utc","domain":[{"year":2023,"month":1,"date":15,"utc":true},{"year":2025,"month":9,"date":23,"utc":true}]},
  "axis":{"values":[{"year":2023,"month":1,"date":16,"utc":true},{"year":2023,"month":4,"date":1,"utc":true},{"year":2023,"month":6,"date":1,"utc":true},{"year":2023,"month":8,"date":1,"utc":true},{"year":2023,"month":10,"date":1,"utc":true},{"year":2023,"month":12,"date":1,"utc":true},{"year":2024,"month":2,"date":1,"utc":true},{"year":2024,"month":4,"date":1,"utc":true},{"year":2024,"month":6,"date":1,"utc":true},{"year":2024,"month":8,"date":1,"utc":true},{"year":2024,"month":10,"date":1,"utc":true},{"year":2024,"month":12,"date":1,"utc":true},{"year":2025,"month":2,"date":1,"utc":true},{"year":2025,"month":4,"date":1,"utc":true},{"year":2025,"month":6,"date":1,"utc":true},{"year":2025,"month":8,"date":1,"utc":true}],
   "labelExpr":"utcFormat(datum.value, '%y-%m')","labelAlign":"left","labelOffset":2,"labelPadding":2,"labelOverlap":false,"labelFlush":false,
   "ticks":false,"domain":false,"grid":true,"gridDash":[3,3],"gridColor":"#e2e2e2","title":null}}},
"layer":[
 {"data":{"name":"k"},"mark":{"type":"rule","strokeWidth":1},
  "encoding":{"y":{"field":"m","type":"quantitative","title":null,"scale":{"domain":[-0.25,1.67],"nice":false,"zero":false},
     "axis":{"orient":"right","values":[0],"format":".2f","grid":true,"gridDash":[1,2],"gridColor":"#cfcfcf","ticks":false,"domain":false,"labelPadding":5,"title":null}},
   "y2":{"datum":0},
   "color":{"condition":{"test":"datum.m >= 0","value":"#f06a6a"},"value":"#37a347"}}},
 {"data":{"name":"k"},"mark":{"type":"line","strokeWidth":1,"color":"#777777"},
  "encoding":{"y":{"field":"dif","type":"quantitative","title":null}}},
 {"data":{"name":"k"},"mark":{"type":"line","strokeWidth":1,"color":"#c0415a"},
  "encoding":{"y":{"field":"dea","type":"quantitative","title":null}}},
 {"data":{"name":"lgd"},"mark":{"type":"text","align":"left","baseline":"middle","fontSize":5.8},
  "encoding":{"y":{"datum":1.263,"type":"quantitative","title":null},"text":{"field":"t"},
   "fill":{"field":"g","type":"nominal","legend":null,"scale":{"domain":["q","n","p","b","g"],"range":["#a0a0a0","#555555","#e85a74","#4a64e0","#37a347"]}}}},
 {"data":{"values":[{"d":"2025-09-24","d2":"2025-11-11"}],"format":{"parse":{"d":"date","d2":"date"}}},"mark":{"type":"rect","color":"#e4e4e4"},
  "encoding":{"x2":{"field":"d2"},"y":{"datum":0.827,"type":"quantitative","title":null},"y2":{"datum":0.288}}},
 {"data":{"values":[{"d":"2025-10-17","t":"0.6100"}]},"mark":{"type":"text","align":"center","baseline":"middle","fontSize":6,"color":"#2f9e3f"},
  "encoding":{"y":{"datum":0.558,"type":"quantitative","title":null},"text":{"field":"t"}}},
 {"data":{"values":[{"d":"2023-06-02"}]},"mark":{"type":"rule","color":"#f4a667","strokeWidth":2,"opacity":0.75},"encoding":{}}
]
}
]
}
